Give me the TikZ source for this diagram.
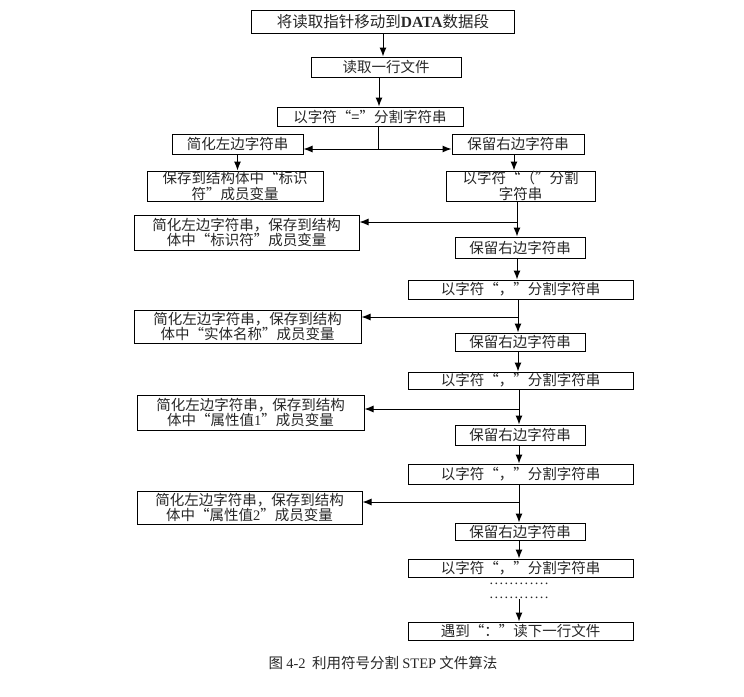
\documentclass[tikz,border=0pt]{standalone}
\usepackage{amsmath}
\usepackage{fontspec}
\setmainfont{Noto Sans CJK SC}
\newfontfamily\lat{Liberation Serif}
\usepackage{tikz}
\usetikzlibrary{arrows.meta}

\begin{document}
\begin{tikzpicture}[->,>={Latex[length=9pt,width=7pt]},x=1pt,y=-1pt,line width=1pt,
                    font=\fontsize{14.5}{15.5}\selectfont]
  \tikzstyle{box}=[draw,rectangle,inner sep=0pt,align=center,text=black!85]
  \tikzstyle{dots}=[inner sep=0pt,text height=1.5pt,text depth=0pt,text=black!85]

  \useasboundingbox (0,0) rectangle (744,696);

  \node[box,minimum width=263,minimum height=23,font=\fontsize{15.5}{16}\selectfont] (ptr) at (383,21.5) {将读取指针移动到{\lat\bfseries DATA}数据段};
  \node[box,minimum width=150,minimum height=20] (line)   at (386,67)    {读取一行文件};
  \node[box,minimum width=186,minimum height=19] (eq)     at (370,116.5) {以字符“=”分割字符串};
  \node[box,minimum width=131,minimum height=20] (left)   at (237.5,144) {简化左边字符串};
  \node[box,minimum width=132,minimum height=20] (right)  at (518,144)   {保留右边字符串};
  \node[box,minimum width=176,minimum height=30] (ident)  at (235,186)   {保存到结构体中“标识\\符”成员变量};
  \node[box,minimum width=149,minimum height=30] (paren)  at (520.5,186) {以字符“（”分割\\字符串};
  \node[box,minimum width=225,minimum height=35] (ident2) at (246.5,232.5) {简化左边字符串，保存到结构\\体中“标识符”成员变量};
  \node[box,minimum width=130,minimum height=21] (right2) at (520,247.5) {保留右边字符串};
  \node[box,minimum width=225,minimum height=19] (comma1) at (520.5,289.5) {以字符“，”分割字符串};
  \node[box,minimum width=227,minimum height=33] (name)   at (247.5,326.5) {简化左边字符串，保存到结构\\体中“实体名称”成员变量};
  \node[box,minimum width=130,minimum height=18] (right3) at (520,342)   {保留右边字符串};
  \node[box,minimum width=225,minimum height=17] (comma2) at (520.5,380.5) {以字符“，”分割字符串};
  \node[box,minimum width=227,minimum height=35] (attr1)  at (250.5,412.5) {简化左边字符串，保存到结构\\体中“属性值{\lat 1}”成员变量};
  \node[box,minimum width=130,minimum height=20] (right4) at (520,435)   {保留右边字符串};
  \node[box,minimum width=225,minimum height=20] (comma3) at (520.5,474) {以字符“，”分割字符串};
  \node[box,minimum width=225,minimum height=33] (attr2)  at (249.5,507.5) {简化左边字符串，保存到结构\\体中“属性值{\lat 2}”成员变量};
  \node[box,minimum width=130,minimum height=17] (right5) at (520,531.5) {保留右边字符串};
  \node[box,minimum width=225,minimum height=18] (comma4) at (520.5,568) {以字符“，”分割字符串};
  \node[dots] (dots1) at (519,584) {\lat\foreach \i in {1,...,12}{.\hspace{1.4pt}}};
  \node[dots] (dots2) at (519,598) {\lat\foreach \i in {1,...,12}{.\hspace{1.4pt}}};
  \node[box,minimum width=225,minimum height=18] (next)   at (520.5,631) {遇到“：”读下一行文件};
  \node[inner sep=0pt,text=black!85] (cap) at (383,663) {图 {\lat 4-2}\ \ 利用符号分割 {\lat STEP} 文件算法};

  \coordinate (a1) at (383,0);
  \coordinate (a2) at (379,0);
  \coordinate (a3) at (514,0);
  \coordinate (split) at (378,149);
  \coordinate (j1) at (517,222);
  \coordinate (j2) at (518,317);
  \coordinate (j3) at (519,409);
  \coordinate (j4) at (519,502);

  \path (ptr.south -| a1)   edge (a1 |- line.north)
        (line.south -| a2)  edge (a2 |- eq.north)
        (left.south)        edge (left.south |- ident.north)
        (right.south -| a3) edge (a3 |- paren.north);

  \draw[-] (eq.south -| split) -- (split);
  \draw (split) -- (split -| left.east);
  \draw (split) -- (split -| right.west);

  \draw (paren.south -| j1) -- (j1 |- right2.north);
  \draw (j1) -- (j1 -| ident2.east);
  \draw (right2.south -| j1) -- (j1 |- comma1.north);

  \draw (comma1.south -| j2) -- (j2 |- right3.north);
  \draw (j2) -- (j2 -| name.east);
  \draw (right3.south -| j2) -- (j2 |- comma2.north);

  \draw (comma2.south -| j3) -- (j3 |- right4.north);
  \draw (j3) -- (j3 -| attr1.east);
  \draw (right4.south -| j3) -- (j3 |- comma3.north);

  \draw (comma3.south -| j4) -- (j4 |- right5.north);
  \draw (j4) -- (j4 -| attr2.east);
  \draw (right5.south -| j4) -- (j4 |- comma4.north);

  \draw (dots2.south -| j4) -- (j4 |- next.north);

\end{tikzpicture}
\end{document}
